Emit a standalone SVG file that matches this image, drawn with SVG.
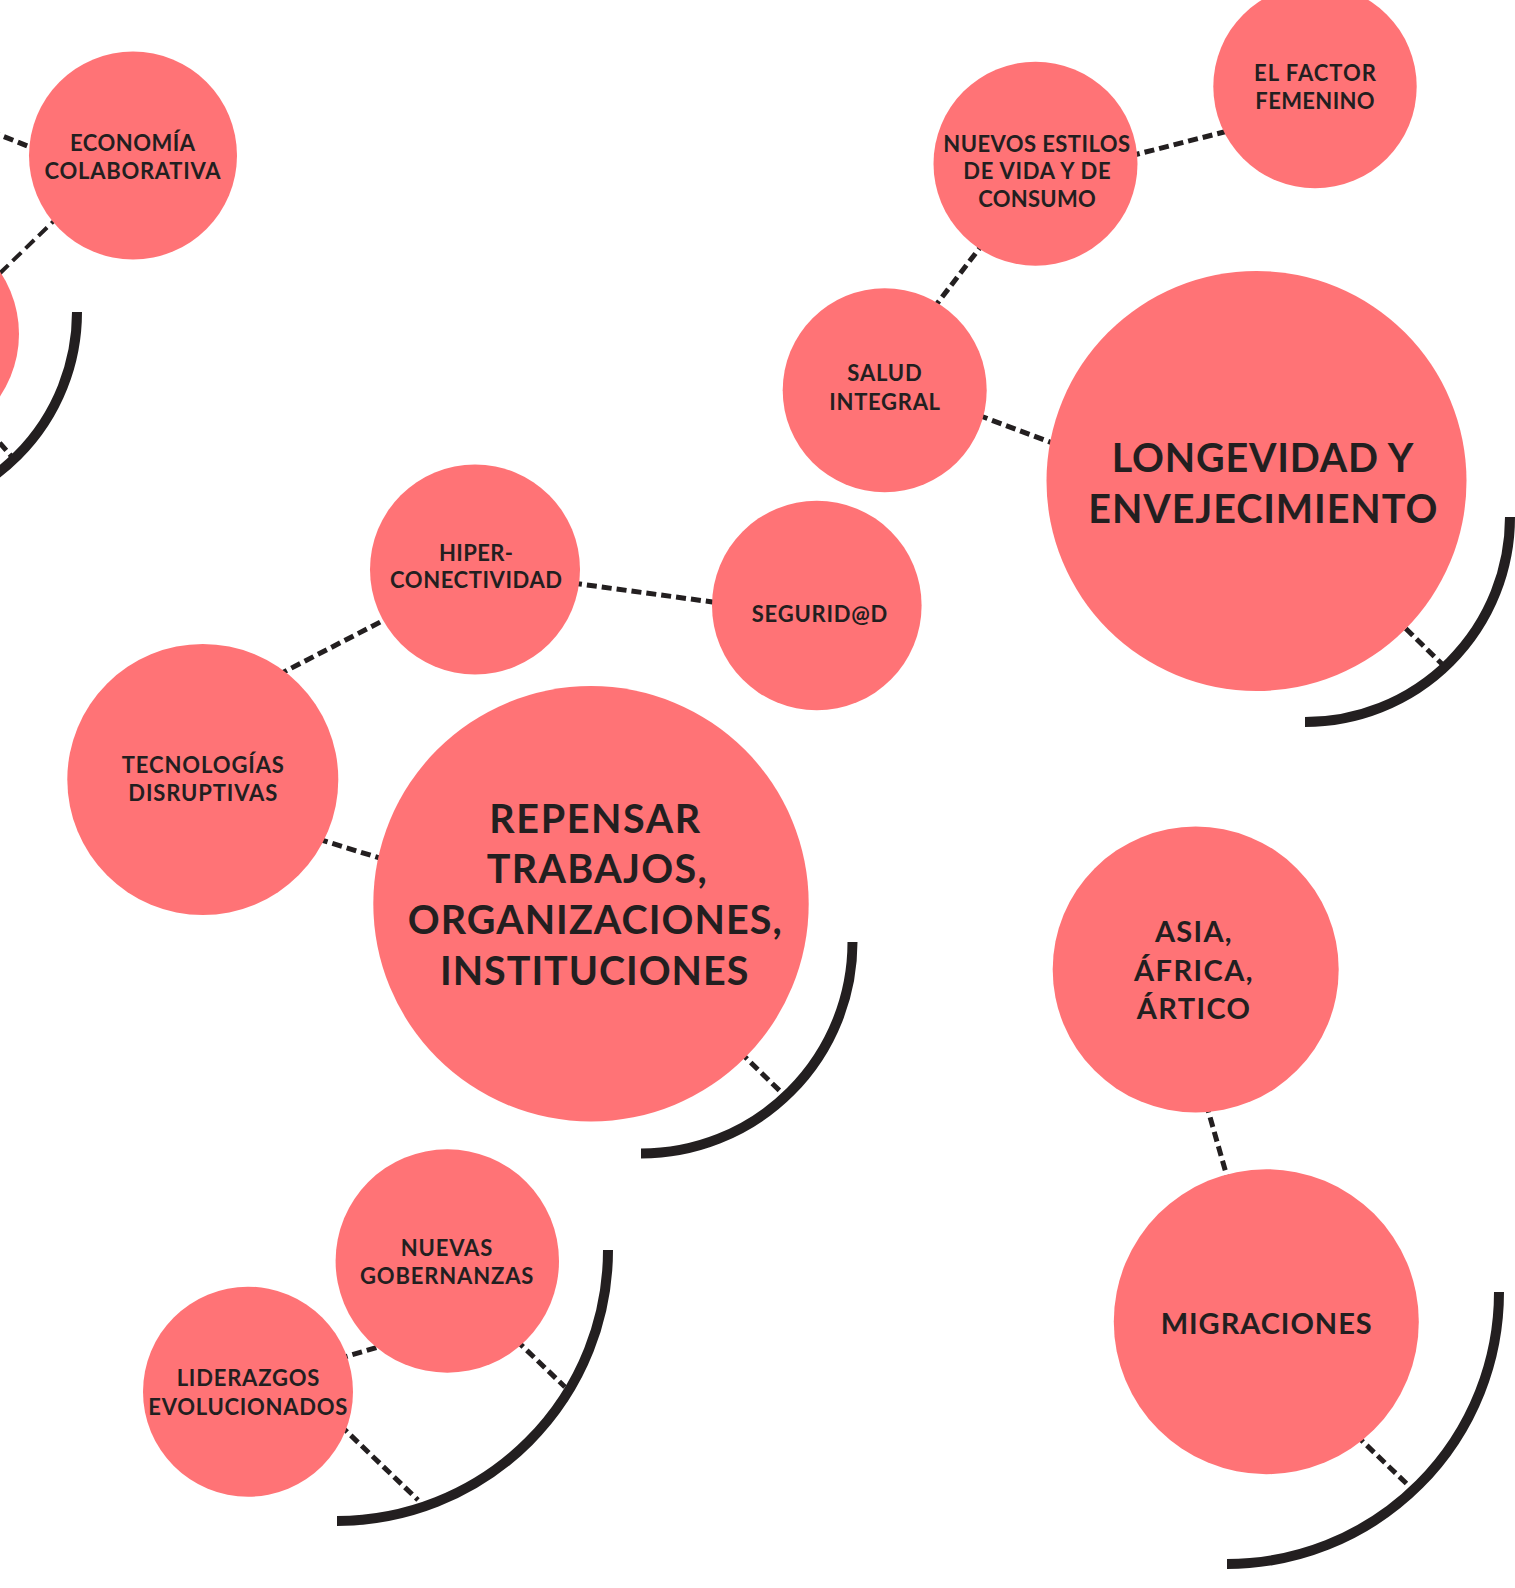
<svg xmlns="http://www.w3.org/2000/svg" width="1515" height="1588" viewBox="0 0 1515 1588">
<style>
.bg{fill:#ffffff}
.n{fill:#FF7376}
.t{font-family:Lato,"Open Sans","Liberation Sans",sans-serif;font-weight:700;fill:#231F20;text-anchor:middle}
.s{font-size:22px}
.m{font-size:29px}
.l{font-size:39.5px}
.c{stroke:#231F20;stroke-width:5;stroke-dasharray:10 5;fill:none}
.c2{stroke:#231F20;stroke-width:4;stroke-dasharray:12 6;fill:none}
.arc{stroke:#231F20;stroke-width:10;fill:none}
</style>
<rect class="bg" x="0" y="0" width="1515" height="1588"/>
<g id="connectors">
<line class="c" x1="-10" y1="131" x2="40" y2="151"/>
<line class="c2" x1="60" y1="215" x2="-5" y2="278"/>
<line class="c" x1="-30" y1="409" x2="13" y2="458"/>
<line class="c" x1="1130" y1="156" x2="1228" y2="131"/>
<line class="c" x1="933" y1="309" x2="985" y2="241"/>
<line class="c" x1="978" y1="415" x2="1055" y2="444"/>
<line class="c" x1="1395" y1="618" x2="1442" y2="664"/>
<line class="c" x1="572" y1="583" x2="720" y2="603"/>
<line class="c" x1="278" y1="675" x2="390" y2="617"/>
<line class="c" x1="318" y1="839" x2="386" y2="860"/>
<line class="c" x1="740" y1="1052" x2="781" y2="1092"/>
<line class="c" x1="1206" y1="1103" x2="1228" y2="1180"/>
<line class="c" x1="1356" y1="1435" x2="1408" y2="1485"/>
<line class="c" x1="338" y1="1359" x2="385" y2="1345"/>
<line class="c" x1="516" y1="1340" x2="565" y2="1387"/>
<line class="c" x1="340" y1="1425" x2="418" y2="1500"/>
</g>
<g id="brackets">
<path class="arc" d="M 77 312 A 203 203 0 0 1 -126 515"/>
<path class="arc" d="M 1510 517 A 205 205 0 0 1 1305 722"/>
<path class="arc" d="M 852.5 942 A 211.5 211.5 0 0 1 641 1153.5"/>
<path class="arc" d="M 608 1250 A 271 271 0 0 1 337 1521"/>
<path class="arc" d="M 1499 1292 A 272 272 0 0 1 1227 1564"/>
</g>
<g id="node-left">
<circle class="n" cx="-93" cy="334" r="112"/>
</g>
<g id="node-economia">
<circle class="n" cx="133" cy="155.5" r="104"/>
<text class="t s" x="132.5" y="151" textLength="125">ECONOMÍA</text>
<text class="t s" x="132.5" y="179.3" textLength="176">COLABORATIVA</text>
</g>
<g id="node-nuevos-estilos">
<circle class="n" cx="1035.5" cy="163.7" r="102"/>
<text class="t s" x="1036.7" y="151.7" textLength="186.7">NUEVOS ESTILOS</text>
<text class="t s" x="1037" y="179.3" textLength="147.3">DE VIDA Y DE</text>
<text class="t s" x="1037" y="207.3" textLength="117.7">CONSUMO</text>
</g>
<g id="node-factor-femenino">
<circle class="n" cx="1315" cy="86.6" r="101.7"/>
<text class="t s" x="1315" y="81" textLength="122">EL FACTOR</text>
<text class="t s" x="1315" y="109" textLength="119.3">FEMENINO</text>
</g>
<g id="node-salud">
<circle class="n" cx="884.7" cy="390.3" r="102"/>
<text class="t s" x="884.5" y="380.7" textLength="74.3">SALUD</text>
<text class="t s" x="884.7" y="410" textLength="110.7">INTEGRAL</text>
</g>
<g id="node-longevidad">
<circle class="n" cx="1256.5" cy="481" r="210"/>
<text class="t l" x="1262.5" y="471.7" textLength="301.7">LONGEVIDAD Y</text>
<text class="t l" x="1262.8" y="522.7" textLength="349">ENVEJECIMIENTO</text>
</g>
<g id="node-hiper">
<circle class="n" cx="475" cy="569.5" r="105"/>
<text class="t s" x="476" y="560.5" textLength="74">HIPER-</text>
<text class="t s" x="476" y="588" textLength="172">CONECTIVIDAD</text>
</g>
<g id="node-seguridad">
<circle class="n" cx="816.8" cy="605.5" r="104.8"/>
<text class="t s" x="819.5" y="622" textLength="135.5">SEGURID@D</text>
</g>
<g id="node-tecnologias">
<circle class="n" cx="202.8" cy="779.5" r="135.5"/>
<text class="t s" x="202.8" y="773.3" textLength="162.3">TECNOLOGÍAS</text>
<text class="t s" x="202.8" y="801" textLength="149">DISRUPTIVAS</text>
</g>
<g id="node-repensar">
<circle class="n" cx="591" cy="903.8" r="217.7"/>
<text class="t l" x="594.7" y="833.3" textLength="210.7">REPENSAR</text>
<text class="t l" x="596.7" y="883.3" textLength="220">TRABAJOS,</text>
<text class="t l" x="594.7" y="934.3" textLength="374">ORGANIZACIONES,</text>
<text class="t l" x="594.2" y="985" textLength="308.3">INSTITUCIONES</text>
</g>
<g id="node-asia">
<circle class="n" cx="1195.7" cy="969.5" r="143"/>
<text class="t m" x="1193.3" y="942.3" textLength="76.7">ASIA,</text>
<text class="t m" x="1193.3" y="981" textLength="118.7">ÁFRICA,</text>
<text class="t m" x="1193.3" y="1019.3" textLength="113.3">ÁRTICO</text>
</g>
<g id="node-migraciones">
<circle class="n" cx="1266.3" cy="1321.7" r="152.5"/>
<text class="t m" x="1266.2" y="1334" textLength="211">MIGRACIONES</text>
</g>
<g id="node-nuevas-gobernanzas">
<circle class="n" cx="447.3" cy="1261" r="111.7"/>
<text class="t s" x="446.5" y="1255.7" textLength="91.7">NUEVAS</text>
<text class="t s" x="446.7" y="1284.3" textLength="173.3">GOBERNANZAS</text>
</g>
<g id="node-liderazgos">
<circle class="n" cx="248" cy="1391.7" r="105"/>
<text class="t s" x="248" y="1386" textLength="142.7">LIDERAZGOS</text>
<text class="t s" x="247.8" y="1415" textLength="199">EVOLUCIONADOS</text>
</g>
</svg>
